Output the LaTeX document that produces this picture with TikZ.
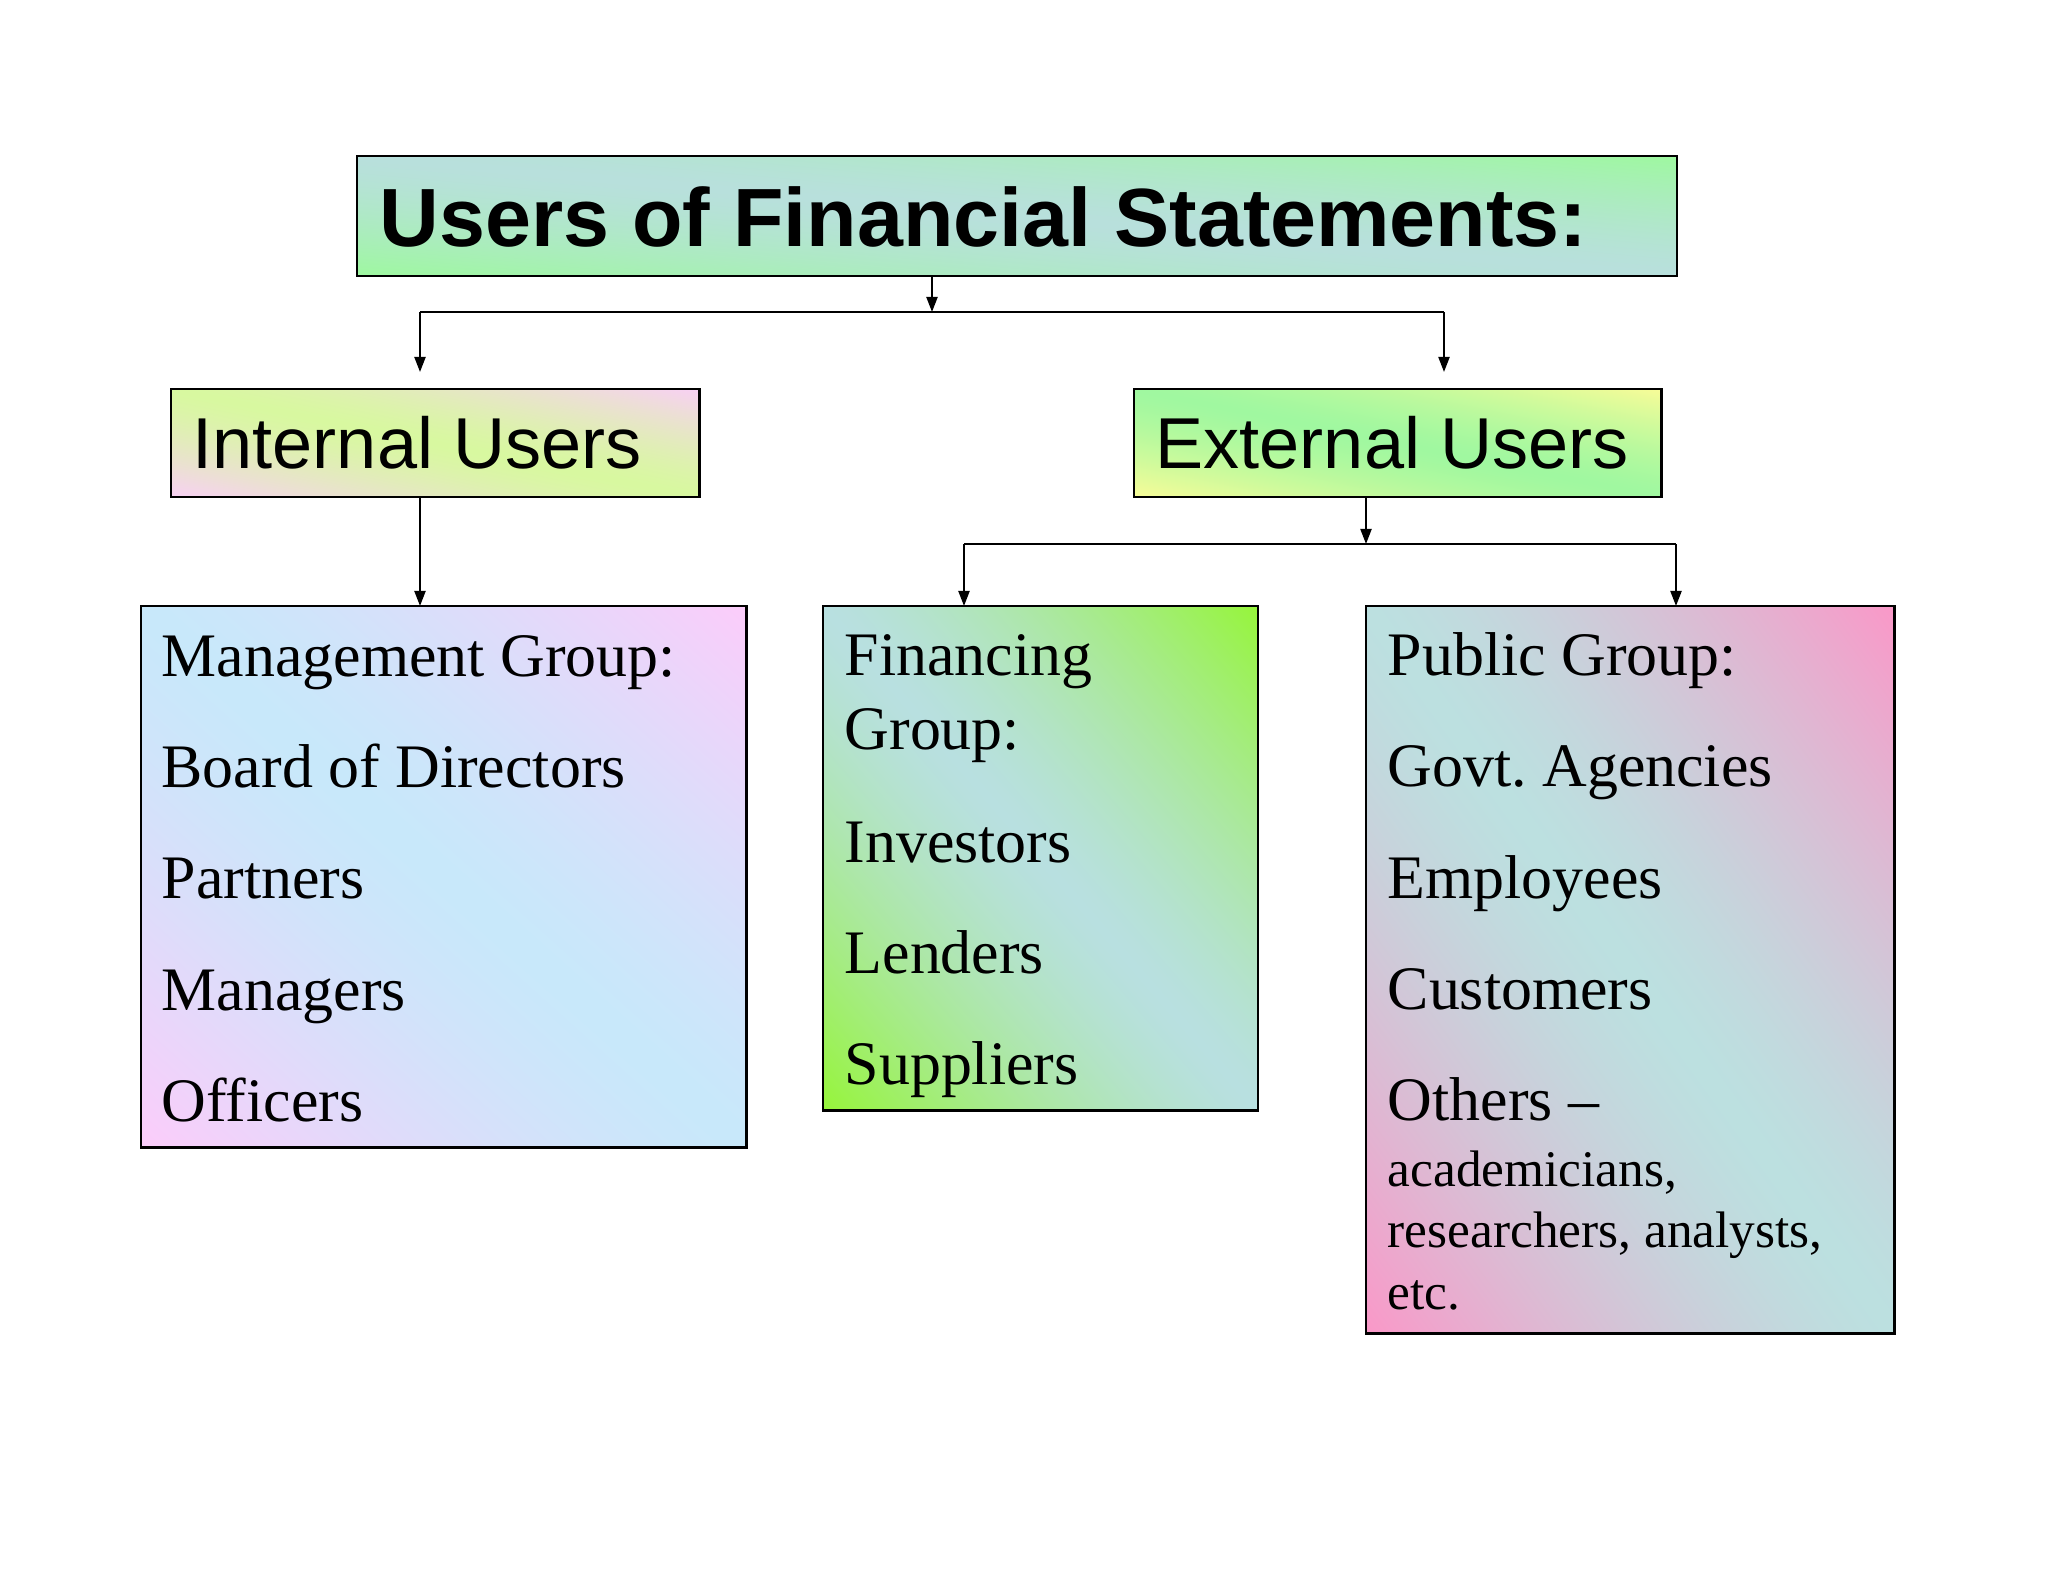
\documentclass[tikz,border=0pt]{standalone}
\usepackage{fontspec}
\setmainfont{Liberation Serif}
\newfontfamily\arialf{Liberation Sans}
\usetikzlibrary{arrows.meta}
% diagonal two-colour shading: colour A along the upper-left/lower-right diagonal, colour B in the other two corners
\newcommand\mkshade[7]{\pgfdeclarefunctionalshading{#1}{\pgfpoint{-50bp}{-50bp}}{\pgfpoint{50bp}{50bp}}{}{add abs 50 div dup 1 gt {pop 1} if 1.4 exp dup #5 #2 sub mul #2 add exch dup #6 #3 sub mul #3 add exch #7 #4 sub mul #4 add}}
\mkshade{titlesh}{0.722}{0.878}{0.863}{0.620}{0.973}{0.627}
\mkshade{intsh}{0.847}{0.973}{0.627}{0.973}{0.816}{0.957}
\mkshade{extsh}{0.627}{0.973}{0.627}{0.973}{0.988}{0.596}
\mkshade{mgmtsh}{0.784}{0.910}{0.980}{0.988}{0.800}{0.980}
\mkshade{finsh}{0.722}{0.878}{0.878}{0.588}{0.961}{0.227}
\mkshade{pubsh}{0.737}{0.878}{0.878}{0.980}{0.596}{0.784}
\begin{document}
\begin{tikzpicture}[x=0.01cm,y=-0.01cm,
  box/.style={draw=black, line width=0.7pt, inner sep=0pt, outer sep=0pt, anchor=north west},
  conn/.style={line width=0.6pt},
  arr/.style={conn, -{Triangle[length=0.15cm,width=0.11cm]}},
  ttl/.style={font=\arialf\bfseries\fontsize{23.5pt}{28pt}\selectfont, anchor=base west, inner sep=0pt},
  sub/.style={font=\arialf\fontsize{20.5pt}{24pt}\selectfont, anchor=base west, inner sep=0pt},
  itm/.style={font=\fontsize{17.6pt}{21pt}\selectfont, anchor=base west, inner sep=0pt},
  sml/.style={font=\fontsize{14.6pt}{18pt}\selectfont, anchor=base west, inner sep=0pt}]
\useasboundingbox[fill=white] (0,0) rectangle (2048,1582);
% boxes
\node[box, shading=titlesh, minimum width=13.19cm, minimum height=1.20cm] (title) at (357,156) {};
\node[box, shading=intsh, minimum width=5.28cm, minimum height=1.08cm] (intu) at (171,389) {};
\node[box, shading=extsh, minimum width=5.27cm, minimum height=1.08cm] (extu) at (1134,389) {};
\node[box, shading=mgmtsh, minimum width=6.05cm, minimum height=5.41cm] (mgmt) at (141,606) {};
\node[box, shading=finsh, minimum width=4.35cm, minimum height=5.04cm] (fin) at (823,606) {};
\node[box, shading=pubsh, minimum width=5.28cm, minimum height=7.27cm] (pub) at (1366,606) {};
% texts
\node[ttl] (ttltxt) at (379,247) {Users of Financial Statements:};
\node[sub] (inttxt) at (192,468) {Internal Users};
\node[sub] (exttxt) at (1155,468) {External Users};
\node[itm] (m1) at (161,676) {Management Group:};
\node[itm] (m2) at (161,787) {Board of Directors};
\node[itm] (m3) at (161,898) {Partners};
\node[itm] (m4) at (161,1010) {Managers};
\node[itm] (m5) at (161,1121) {Officers};
\node[itm] (f1) at (844,675) {Financing};
\node[itm] (f2) at (844,749) {Group:};
\node[itm] (f3) at (844,862) {Investors};
\node[itm] (f4) at (844,973) {Lenders};
\node[itm] (f5) at (844,1084) {Suppliers};
\node[itm] (p1) at (1387,675) {Public Group:};
\node[itm] (p2) at (1387,786) {Govt.\ Agencies};
\node[itm] (p3) at (1387,898) {Employees};
\node[itm] (p4) at (1387,1009) {Customers};
\node[itm] (p5) at (1387,1120) {Others --};
\node[sml] (p6) at (1387,1186) {academicians,};
\node[sml] (p7) at (1387,1247) {researchers, analysts,};
\node[sml] (p8) at (1387,1309) {etc.};
% connectors
\coordinate (j0) at (932,312);
\coordinate (jl) at (420,312);
\coordinate (jr) at (1444,312);
\draw[arr] (j0 |- title.south) -- (j0);
\draw[conn] (jl) -- (jr);
\draw[arr, shorten >=0.17cm] (jl) -- (jl |- intu.north);
\draw[arr, shorten >=0.17cm] (jr) -- (jr |- extu.north);
\draw[arr] (jl |- intu.south) -- (jl |- mgmt.north);
\coordinate (k0) at (1366,544);
\coordinate (kl) at (964,544);
\coordinate (kr) at (1676,544);
\draw[arr] (k0 |- extu.south) -- (k0);
\draw[conn] (kl) -- (kr);
\draw[arr] (kl) -- (kl |- fin.north);
\draw[arr] (kr) -- (kr |- pub.north);
\end{tikzpicture}
\end{document}
